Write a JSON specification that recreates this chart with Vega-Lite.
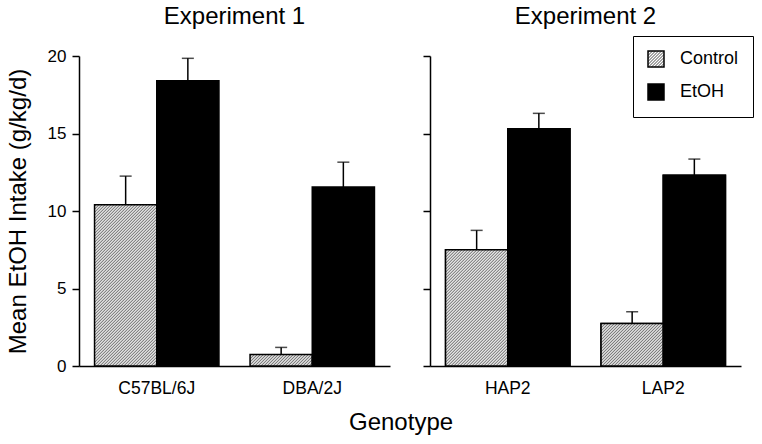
{
"$schema": "https://vega.github.io/schema/vega-lite/v6.json",
"padding": {"left": 6, "top": 4, "right": 5, "bottom": 5},
"params": [{"name": "hatch", "value": [
{"offset":0,"color":"#fff"},{"offset":0.00625,"color":"#777"},{"offset":0.0125,"color":"#fff"},{"offset":0.01875,"color":"#777"},{"offset":0.025,"color":"#fff"},{"offset":0.03125,"color":"#777"},{"offset":0.0375,"color":"#fff"},{"offset":0.04375,"color":"#777"},
{"offset":0.05,"color":"#fff"},{"offset":0.05625,"color":"#777"},{"offset":0.0625,"color":"#fff"},{"offset":0.06875,"color":"#777"},{"offset":0.075,"color":"#fff"},{"offset":0.08125,"color":"#777"},{"offset":0.0875,"color":"#fff"},{"offset":0.09375,"color":"#777"},
{"offset":0.1,"color":"#fff"},{"offset":0.10625,"color":"#777"},{"offset":0.1125,"color":"#fff"},{"offset":0.11875,"color":"#777"},{"offset":0.125,"color":"#fff"},{"offset":0.13125,"color":"#777"},{"offset":0.1375,"color":"#fff"},{"offset":0.14375,"color":"#777"},
{"offset":0.15,"color":"#fff"},{"offset":0.15625,"color":"#777"},{"offset":0.1625,"color":"#fff"},{"offset":0.16875,"color":"#777"},{"offset":0.175,"color":"#fff"},{"offset":0.18125,"color":"#777"},{"offset":0.1875,"color":"#fff"},{"offset":0.19375,"color":"#777"},
{"offset":0.2,"color":"#fff"},{"offset":0.20625,"color":"#777"},{"offset":0.2125,"color":"#fff"},{"offset":0.21875,"color":"#777"},{"offset":0.225,"color":"#fff"},{"offset":0.23125,"color":"#777"},{"offset":0.2375,"color":"#fff"},{"offset":0.24375,"color":"#777"},
{"offset":0.25,"color":"#fff"},{"offset":0.25625,"color":"#777"},{"offset":0.2625,"color":"#fff"},{"offset":0.26875,"color":"#777"},{"offset":0.275,"color":"#fff"},{"offset":0.28125,"color":"#777"},{"offset":0.2875,"color":"#fff"},{"offset":0.29375,"color":"#777"},
{"offset":0.3,"color":"#fff"},{"offset":0.30625,"color":"#777"},{"offset":0.3125,"color":"#fff"},{"offset":0.31875,"color":"#777"},{"offset":0.325,"color":"#fff"},{"offset":0.33125,"color":"#777"},{"offset":0.3375,"color":"#fff"},{"offset":0.34375,"color":"#777"},
{"offset":0.35,"color":"#fff"},{"offset":0.35625,"color":"#777"},{"offset":0.3625,"color":"#fff"},{"offset":0.36875,"color":"#777"},{"offset":0.375,"color":"#fff"},{"offset":0.38125,"color":"#777"},{"offset":0.3875,"color":"#fff"},{"offset":0.39375,"color":"#777"},
{"offset":0.4,"color":"#fff"},{"offset":0.40625,"color":"#777"},{"offset":0.4125,"color":"#fff"},{"offset":0.41875,"color":"#777"},{"offset":0.425,"color":"#fff"},{"offset":0.43125,"color":"#777"},{"offset":0.4375,"color":"#fff"},{"offset":0.44375,"color":"#777"},
{"offset":0.45,"color":"#fff"},{"offset":0.45625,"color":"#777"},{"offset":0.4625,"color":"#fff"},{"offset":0.46875,"color":"#777"},{"offset":0.475,"color":"#fff"},{"offset":0.48125,"color":"#777"},{"offset":0.4875,"color":"#fff"},{"offset":0.49375,"color":"#777"},
{"offset":0.5,"color":"#fff"},{"offset":0.50625,"color":"#777"},{"offset":0.5125,"color":"#fff"},{"offset":0.51875,"color":"#777"},{"offset":0.525,"color":"#fff"},{"offset":0.53125,"color":"#777"},{"offset":0.5375,"color":"#fff"},{"offset":0.54375,"color":"#777"},
{"offset":0.55,"color":"#fff"},{"offset":0.55625,"color":"#777"},{"offset":0.5625,"color":"#fff"},{"offset":0.56875,"color":"#777"},{"offset":0.575,"color":"#fff"},{"offset":0.58125,"color":"#777"},{"offset":0.5875,"color":"#fff"},{"offset":0.59375,"color":"#777"},
{"offset":0.6,"color":"#fff"},{"offset":0.60625,"color":"#777"},{"offset":0.6125,"color":"#fff"},{"offset":0.61875,"color":"#777"},{"offset":0.625,"color":"#fff"},{"offset":0.63125,"color":"#777"},{"offset":0.6375,"color":"#fff"},{"offset":0.64375,"color":"#777"},
{"offset":0.65,"color":"#fff"},{"offset":0.65625,"color":"#777"},{"offset":0.6625,"color":"#fff"},{"offset":0.66875,"color":"#777"},{"offset":0.675,"color":"#fff"},{"offset":0.68125,"color":"#777"},{"offset":0.6875,"color":"#fff"},{"offset":0.69375,"color":"#777"},
{"offset":0.7,"color":"#fff"},{"offset":0.70625,"color":"#777"},{"offset":0.7125,"color":"#fff"},{"offset":0.71875,"color":"#777"},{"offset":0.725,"color":"#fff"},{"offset":0.73125,"color":"#777"},{"offset":0.7375,"color":"#fff"},{"offset":0.74375,"color":"#777"},
{"offset":0.75,"color":"#fff"},{"offset":0.75625,"color":"#777"},{"offset":0.7625,"color":"#fff"},{"offset":0.76875,"color":"#777"},{"offset":0.775,"color":"#fff"},{"offset":0.78125,"color":"#777"},{"offset":0.7875,"color":"#fff"},{"offset":0.79375,"color":"#777"},
{"offset":0.8,"color":"#fff"},{"offset":0.80625,"color":"#777"},{"offset":0.8125,"color":"#fff"},{"offset":0.81875,"color":"#777"},{"offset":0.825,"color":"#fff"},{"offset":0.83125,"color":"#777"},{"offset":0.8375,"color":"#fff"},{"offset":0.84375,"color":"#777"},
{"offset":0.85,"color":"#fff"},{"offset":0.85625,"color":"#777"},{"offset":0.8625,"color":"#fff"},{"offset":0.86875,"color":"#777"},{"offset":0.875,"color":"#fff"},{"offset":0.88125,"color":"#777"},{"offset":0.8875,"color":"#fff"},{"offset":0.89375,"color":"#777"},
{"offset":0.9,"color":"#fff"},{"offset":0.90625,"color":"#777"},{"offset":0.9125,"color":"#fff"},{"offset":0.91875,"color":"#777"},{"offset":0.925,"color":"#fff"},{"offset":0.93125,"color":"#777"},{"offset":0.9375,"color":"#fff"},{"offset":0.94375,"color":"#777"},
{"offset":0.95,"color":"#fff"}
]}],
"data": {"values": [
{"experiment": "Experiment 1", "genotype": "C57BL/6J", "treatment": "Control", "mean": 10.4, "upper": 12.25},
{"experiment": "Experiment 1", "genotype": "C57BL/6J", "treatment": "EtOH", "mean": 18.4, "upper": 19.85},
{"experiment": "Experiment 1", "genotype": "DBA/2J", "treatment": "Control", "mean": 0.75, "upper": 1.2},
{"experiment": "Experiment 1", "genotype": "DBA/2J", "treatment": "EtOH", "mean": 11.55, "upper": 13.15},
{"experiment": "Experiment 2", "genotype": "HAP2", "treatment": "Control", "mean": 7.5, "upper": 8.75},
{"experiment": "Experiment 2", "genotype": "HAP2", "treatment": "EtOH", "mean": 15.3, "upper": 16.3},
{"experiment": "Experiment 2", "genotype": "LAP2", "treatment": "Control", "mean": 2.75, "upper": 3.5},
{"experiment": "Experiment 2", "genotype": "LAP2", "treatment": "EtOH", "mean": 12.3, "upper": 13.35}
]},
"title": {"text": "Genotype", "orient": "bottom", "anchor": "start", "frame": "group", "dx": 270, "fontSize": 24, "fontWeight": "normal", "font": "Liberation Sans", "color": "black", "offset": 14},
"spacing": 40,
"bounds": "flush",
"resolve": {"scale": {"fill": "independent"}, "legend": {"fill": "independent"}},
"hconcat": [
{
 "width": 311, "height": 310,
 "title": {"text": "Experiment 1", "fontSize": 24, "fontWeight": "normal", "anchor": "middle", "frame": "group", "baseline": "bottom", "offset": -6},
 "transform": [{"filter": "datum.experiment === 'Experiment 1'"}],
 "encoding": {
  "x": {"field": "genotype", "type": "nominal", "sort": null, "scale": {"paddingInner": 0.2, "paddingOuter": 0.1}, "axis": {"title": null, "ticks": false, "tickSize": 0, "labelAngle": 0, "labelFontSize": 17.5, "labelPadding": 13}},
  "xOffset": {"field": "treatment", "type": "nominal", "sort": ["Control", "EtOH"]}
 },
 "layer": [
  {"mark": {"type": "bar", "stroke": "black", "strokeWidth": 1.5},
   "encoding": {
    "y": {"field": "mean", "type": "quantitative", "scale": {"domain": [0, 20], "nice": false}, "axis": {"title": "Mean EtOH Intake (g/kg/d)", "values": [0, 5, 10, 15, 20], "labelFontSize": 17, "titleFontSize": 24, "titlePadding": 17, "tickSize": 7, "labelPadding": 6}},
    "fill": {"value": {"expr": "datum.treatment === 'Control' ? {gradient: 'linear', x1: 0, y1: 0, x2: 240*62.2/(3868.84 + pow(datum.mean*15.5, 2)), y2: 240*datum.mean*15.5/(3868.84 + pow(datum.mean*15.5, 2)), stops: hatch} : 'black'"}}
   }},
  {"mark": {"type": "rule", "color": "black", "strokeWidth": 1.5},
   "encoding": {"y": {"field": "mean", "type": "quantitative", "axis": {"title": "Mean EtOH Intake (g/kg/d)", "values": [0, 5, 10, 15, 20], "labelFontSize": 17, "titleFontSize": 24, "titlePadding": 17, "tickSize": 7, "labelPadding": 6}}, "y2": {"field": "upper"}}},
  {"mark": {"type": "tick", "orient": "horizontal", "color": "black", "size": 12, "thickness": 1.5},
   "encoding": {"y": {"field": "upper", "type": "quantitative", "axis": {"title": "Mean EtOH Intake (g/kg/d)", "values": [0, 5, 10, 15, 20], "labelFontSize": 17, "titleFontSize": 24, "titlePadding": 17, "tickSize": 7, "labelPadding": 6}}}}
 ]
},
{
 "width": 311, "height": 310,
 "title": {"text": "Experiment 2", "fontSize": 24, "fontWeight": "normal", "anchor": "middle", "frame": "group", "baseline": "bottom", "offset": -17},
 "transform": [{"filter": "datum.experiment === 'Experiment 2'"}],
 "encoding": {
  "x": {"field": "genotype", "type": "nominal", "sort": null, "scale": {"paddingInner": 0.2, "paddingOuter": 0.1}, "axis": {"title": null, "ticks": false, "tickSize": 0, "labelAngle": 0, "labelFontSize": 17.5, "labelPadding": 13}},
  "xOffset": {"field": "treatment", "type": "nominal", "sort": ["Control", "EtOH"]}
 },
 "layer": [
  {"mark": {"type": "bar", "stroke": "black", "strokeWidth": 1.5},
   "encoding": {
    "y": {"field": "mean", "type": "quantitative", "scale": {"domain": [0, 20], "nice": false}, "axis": {"title": null, "labels": false, "values": [0, 5, 10, 15, 20], "tickSize": 7}},
    "fill": {"field": "treatment", "type": "nominal", "scale": {"domain": ["Control", "EtOH"], "range": [
      {"expr": "{gradient: 'linear', x1: 0, y1: 0, x2: 7.5, y2: 7.5, stops: hatch}"},
      "black"]},
     "legend": {"title": null, "orient": "none", "legendX": 203, "legendY": -20, "symbolType": "square", "symbolSize": 256, "symbolStrokeColor": "black", "symbolStrokeWidth": 1.5, "labelFontSize": 18, "labelOffset": 15, "rowPadding": 11, "padding": 14, "strokeColor": "black", "fillColor": "white", "labelColor": "black", "labelFont": "Liberation Sans"}}
   }},
  {"mark": {"type": "bar", "stroke": "black", "strokeWidth": 1.5},
   "encoding": {
    "y": {"field": "mean", "type": "quantitative", "axis": {"title": null, "labels": false, "values": [0, 5, 10, 15, 20], "tickSize": 7}},
    "fill": {"value": {"expr": "datum.treatment === 'Control' ? {gradient: 'linear', x1: 0, y1: 0, x2: 240*62.2/(3868.84 + pow(datum.mean*15.5, 2)), y2: 240*datum.mean*15.5/(3868.84 + pow(datum.mean*15.5, 2)), stops: hatch} : 'black'"}}
   }},
  {"mark": {"type": "rule", "color": "black", "strokeWidth": 1.5},
   "encoding": {"y": {"field": "mean", "type": "quantitative", "axis": {"title": null, "labels": false, "values": [0, 5, 10, 15, 20], "tickSize": 7}}, "y2": {"field": "upper"}}},
  {"mark": {"type": "tick", "orient": "horizontal", "color": "black", "size": 12, "thickness": 1.5},
   "encoding": {"y": {"field": "upper", "type": "quantitative", "axis": {"title": null, "labels": false, "values": [0, 5, 10, 15, 20], "tickSize": 7}}}}
 ]
}
],
"config": {
 "font": "Liberation Sans",
 "view": {"stroke": null},
 "axis": {"domainColor": "black", "domainWidth": 1.5, "tickColor": "black", "tickWidth": 1.5, "labelColor": "black", "titleColor": "black", "labelFont": "Liberation Sans", "titleFont": "Liberation Sans", "titleFontWeight": "normal", "grid": false},
 "title": {"color": "black", "font": "Liberation Sans"}
}
}
